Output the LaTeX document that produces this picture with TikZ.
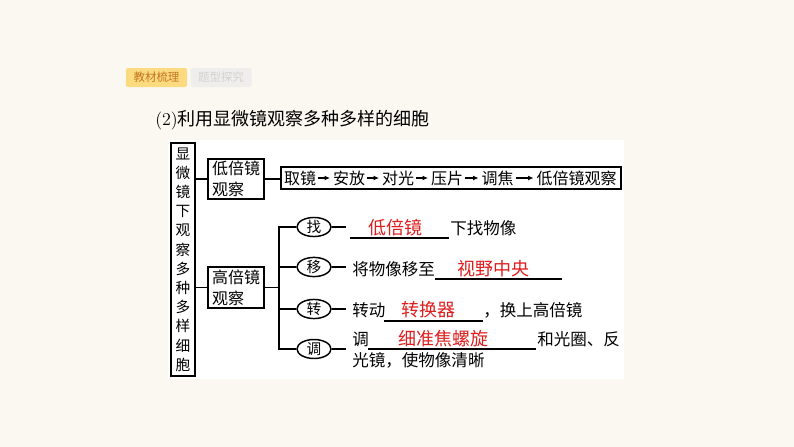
\documentclass[tikz,border=0pt]{standalone}
\usepackage{fontspec}
\newfontfamily\cjk{Noto Sans CJK SC}
\usetikzlibrary{shapes.geometric,arrows.meta}
\definecolor{bgc}{RGB}{251,248,241}
\definecolor{ansred}{RGB}{222,30,30}
\definecolor{tabyel}{RGB}{252,218,128}
\definecolor{tabtxt}{RGB}{196,118,30}
\definecolor{tabgray}{RGB}{239,238,236}
\definecolor{tabgtxt}{RGB}{210,210,210}
\tikzset{
  box/.style={draw, line width=1.3pt, inner sep=0pt},
  conn/.style={line width=1.1pt},
  oval/.style={draw, ellipse, line width=1.1pt, minimum width=25.5pt, minimum height=14.25pt, inner sep=0pt, font=\fontsize{11}{13}\cjk},
  txt/.style={inner sep=0pt, anchor=west, font=\fontsize{12.4}{14}\cjk},
  ans/.style={inner sep=0pt, text=ansred, font=\fontsize{13.5}{15}\cjk},
  word/.style={inner sep=0pt, font=\fontsize{12}{14}\cjk},
  flow/.style={line width=0.8pt, -{Latex[length=4pt,width=3.6pt]}, shorten <=1.5pt, shorten >=2pt},
  uline/.style={line width=1pt},
  tab/.style={rounded corners=1.5pt, minimum width=45.75pt, minimum height=14.25pt, inner sep=0pt, font=\fontsize{8.6}{10}\cjk}
}
\begin{document}
\begin{tikzpicture}[x=0.75pt,y=-0.75pt]
\useasboundingbox (0,0) rectangle (794,447);
\fill[bgc] (0,0) rectangle (794,447);
\fill[white] (168,140) rectangle (624,379);

% tabs
\node[tab, fill=tabyel, text=tabtxt] (tab1) at (156.5,77.5) {教材梳理};
\node[tab, fill=tabgray, text=tabgtxt] (tab2) at (221,77.5) {题型探究};

% title
\node[inner sep=0pt, anchor=west, font=\fontsize{13.5}{15}\selectfont] (title) at (155,120) {(2){\cjk 利用显微镜观察多种多样的细胞}};

% left tall box
\node[box, minimum width=18pt, minimum height=174.75pt, align=center,
      font=\fontsize{11}{14.4}\cjk] (lb) at (183,259.5)
  {显\\微\\镜\\下\\观\\察\\多\\种\\多\\样\\细\\胞};

% low and high boxes
\node[box, minimum width=42pt, minimum height=30pt, align=left,
      font=\fontsize{12}{15.75}\cjk] (lo) at (236,179) {低倍镜\\观察};
\node[box, minimum width=42pt, minimum height=30.75pt, align=left,
      font=\fontsize{12}{15.75}\cjk] (hi) at (236,287.5) {高倍镜\\观察};

\draw[conn] (lb.east |- lo.west) -- (lo.west);
\draw[conn] (lb.east |- hi.west) -- (hi.west);

% long box with steps
\node[box, minimum width=255pt, minimum height=16.5pt] (long) at (451,178) {};
\draw[conn] (lo.east) -- (lo.east -| long.west);
\node[word] (w1) at (300,178) {取镜};
\node[word] (w2) at (349,178) {安放};
\node[word] (w3) at (398,178) {对光};
\node[word] (w4) at (447,178) {压片};
\node[word] (w5) at (497.5,178) {调焦};
\node[word] (w6) at (576.5,178) {低倍镜观察};
\draw[flow] (w1) -- (w2);
\draw[flow] (w2) -- (w3);
\draw[flow] (w3) -- (w4);
\draw[flow] (w4) -- (w5);
\draw[flow] (w5) -- (w6);

% tree
\coordinate (tr) at (279,287.5);
\node[oval] (e1) at (314,227) {找};
\node[oval] (e2) at (314,267) {移};
\node[oval] (e3) at (314,309) {转};
\node[oval] (e4) at (314,349) {调};
\draw[conn] (hi.east) -- (tr);
\draw[conn] (tr) |- (e1.west);
\draw[conn] (tr) |- (e2.west);
\draw[conn] (tr) |- (e3.west);
\draw[conn] (tr) |- (e4.west);
\coordinate (t1) at (346,227);
\coordinate (t2) at (346,267);
\coordinate (t3) at (346,309);
\coordinate (t4) at (346,349);
\draw[conn] (e1.east) -- (t1);
\draw[conn] (e2.east) -- (t2);
\draw[conn] (e3.east) -- (t3);
\draw[conn] (e4.east) -- (t4);

% row 1
\draw[uline] (350,238) -- (449,238);
\node[ans] (a1) at (395,228) {低倍镜};
\node[txt] (r1) at (450,228) {下找物像};
% row 2
\node[txt] (r2a) at (352,269) {将物像移至};
\draw[uline] (435,279) -- (562,279);
\node[ans] (a2) at (493,269) {视野中央};
% row 3
\node[txt] (r3a) at (352,310) {转动};
\draw[uline] (384,321) -- (483,321);
\node[ans] (a3) at (428,310) {转换器};
\node[txt] (r3b) at (483,310) {，换上高倍镜};
% row 4
\node[txt] (r4a) at (352,339) {调};
\draw[uline] (368,349) -- (536,349);
\node[ans] (a4) at (443,339) {细准焦螺旋};
\node[txt] (r4b) at (537,339) {和光圈、反};
\node[txt] (r4c) at (352,360) {光镜，使物像清晰};
\end{tikzpicture}
\end{document}
